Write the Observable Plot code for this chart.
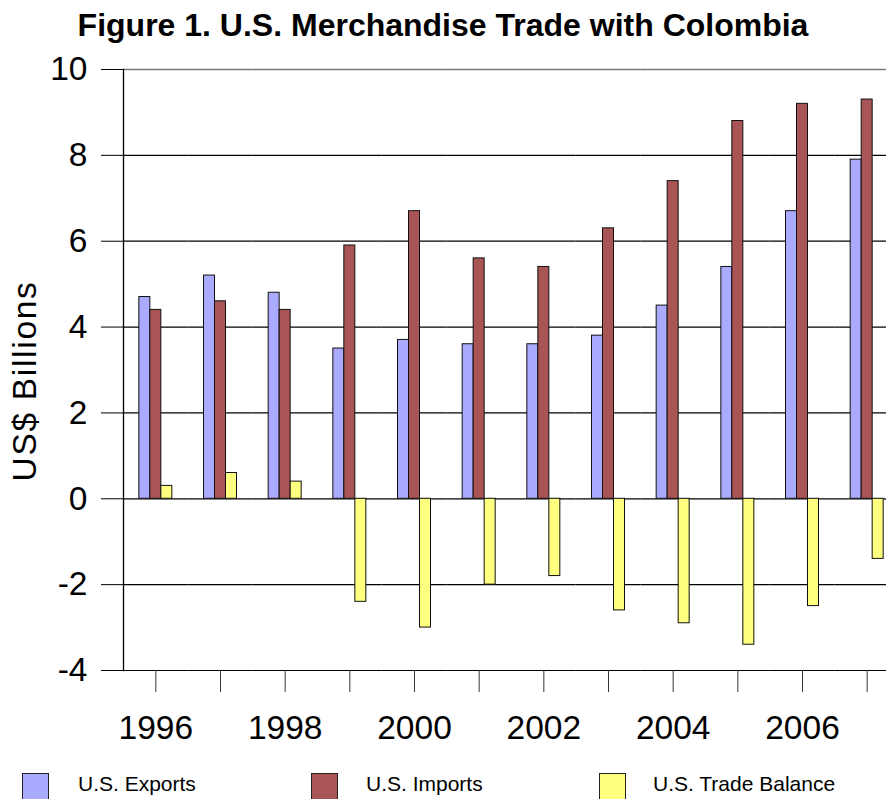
<!DOCTYPE html>
<html>
<head>
<meta charset="utf-8">
<script src="https://cdn.jsdelivr.net/npm/d3@7"></script>
<script src="https://cdn.jsdelivr.net/npm/@observablehq/plot@0.6"></script>
<style>
  html, body { margin: 0; padding: 0; background: white; overflow: hidden; }
  body { width: 886px; height: 799px; position: relative; font-family: "Liberation Sans", Arial, sans-serif; }
  #title { height: 50px; line-height: 50px; text-align: center; font-weight: bold; font-size: 32px; color: #000; white-space: nowrap; }
  #chart svg { display: block; }
  #chart g[aria-label="text"] text { letter-spacing: 1.7px; }
  #legend { position: absolute; left: 0; top: 770px; width: 886px; height: 29px; }
  .sw { position: absolute; top: 3px; width: 27px; height: 30px; box-sizing: border-box; border: 1px solid #222; }
  .lb { position: absolute; top: 2px; font-size: 21px; line-height: 24px; color: #000; white-space: nowrap; }
</style>
</head>
<body>
<div id="title">Figure 1. U.S. Merchandise Trade with Colombia</div>
<div id="chart"></div>
<div id="legend"></div>
<script>
const years = [1996, 1997, 1998, 1999, 2000, 2001, 2002, 2003, 2004, 2005, 2006, 2007];
const seriesNames = ["U.S. Exports", "U.S. Imports", "U.S. Trade Balance"];
const exportsVals = [4.7, 5.2, 4.8, 3.5, 3.7, 3.6, 3.6, 3.8, 4.5, 5.4, 6.7, 7.9];
const importsVals = [4.4, 4.6, 4.4, 5.9, 6.7, 5.6, 5.4, 6.3, 7.4, 8.8, 9.2, 9.3];
const balanceVals = [0.3, 0.6, 0.4, -2.4, -3.0, -2.0, -1.8, -2.6, -2.9, -3.4, -2.5, -1.4];
const yTicks = [-4, -2, 0, 2, 4, 6, 8, 10];
const yLabel = "US$ Billions";
const colors = ["#AAAAFF", "#AA5555", "#FFFF80"];

const valuesBySeries = [exportsVals, importsVals, balanceVals];
const data = [];
years.forEach((yr, i) => {
  seriesNames.forEach((s, j) => data.push({year: yr, series: s, value: valuesBySeries[j][i]}));
});

const chart = Plot.plot({
  width: 886,
  height: 720,
  marginTop: 19,
  marginBottom: 100,
  marginLeft: 123,
  marginRight: -13,
  style: {fontFamily: "Liberation Sans, Arial, sans-serif", color: "#000", background: "white"},
  fx: {domain: years, padding: 0, round: false},
  x: {domain: seriesNames, paddingInner: 0, paddingOuter: 1.44, round: false, axis: null},
  y: {domain: [-4, 10]},
  color: {domain: seriesNames, range: colors},
  marks: [
    Plot.ruleY(yTicks.filter(d => d !== 10), {y: d => d, stroke: "#000", strokeWidth: 1.2}),
    Plot.ruleY([10], {y: d => d, stroke: "#777", strokeWidth: 1.5}),
    Plot.barY(data, {fx: "year", x: "series", y: "value", fill: "series", stroke: "#111", strokeWidth: 1}),
    Plot.frame({anchor: "left", facet: "super", stroke: "#000", strokeWidth: 1.3}),
    Plot.axisY({
      ticks: yTicks,
      tickSize: 22,
      tickPadding: 14,
      tickFormat: d => String(d),
      fontSize: 33.5,
      label: null,
      stroke: "#000"
    }),
    Plot.text([yLabel], {
      text: d => d,
      frameAnchor: "left",
      textAnchor: "middle",
      rotate: -90,
      dx: -98,
      dy: 11,
      fontSize: 33.5,
      fill: "#000",
      facet: "super"
    }),
    Plot.axisFx({
      anchor: "bottom",
      tickSize: 22,
      tickPadding: 23,
      tickFormat: d => (d % 2 === 0 ? String(d) : ""),
      fontSize: 33.5,
      label: null,
      stroke: "#333"
    })
  ]
});
document.getElementById("chart").appendChild(chart);

const legendPos = [{sw: 22, lb: 78}, {sw: 311, lb: 366}, {sw: 599, lb: 653}];
const legend = document.getElementById("legend");
seriesNames.forEach((s, i) => {
  const sw = document.createElement("div");
  sw.className = "sw";
  sw.style.left = legendPos[i].sw + "px";
  sw.style.background = colors[i];
  legend.appendChild(sw);
  const lb = document.createElement("div");
  lb.className = "lb";
  lb.style.left = legendPos[i].lb + "px";
  lb.textContent = s;
  legend.appendChild(lb);
});
</script>
</body>
</html>
